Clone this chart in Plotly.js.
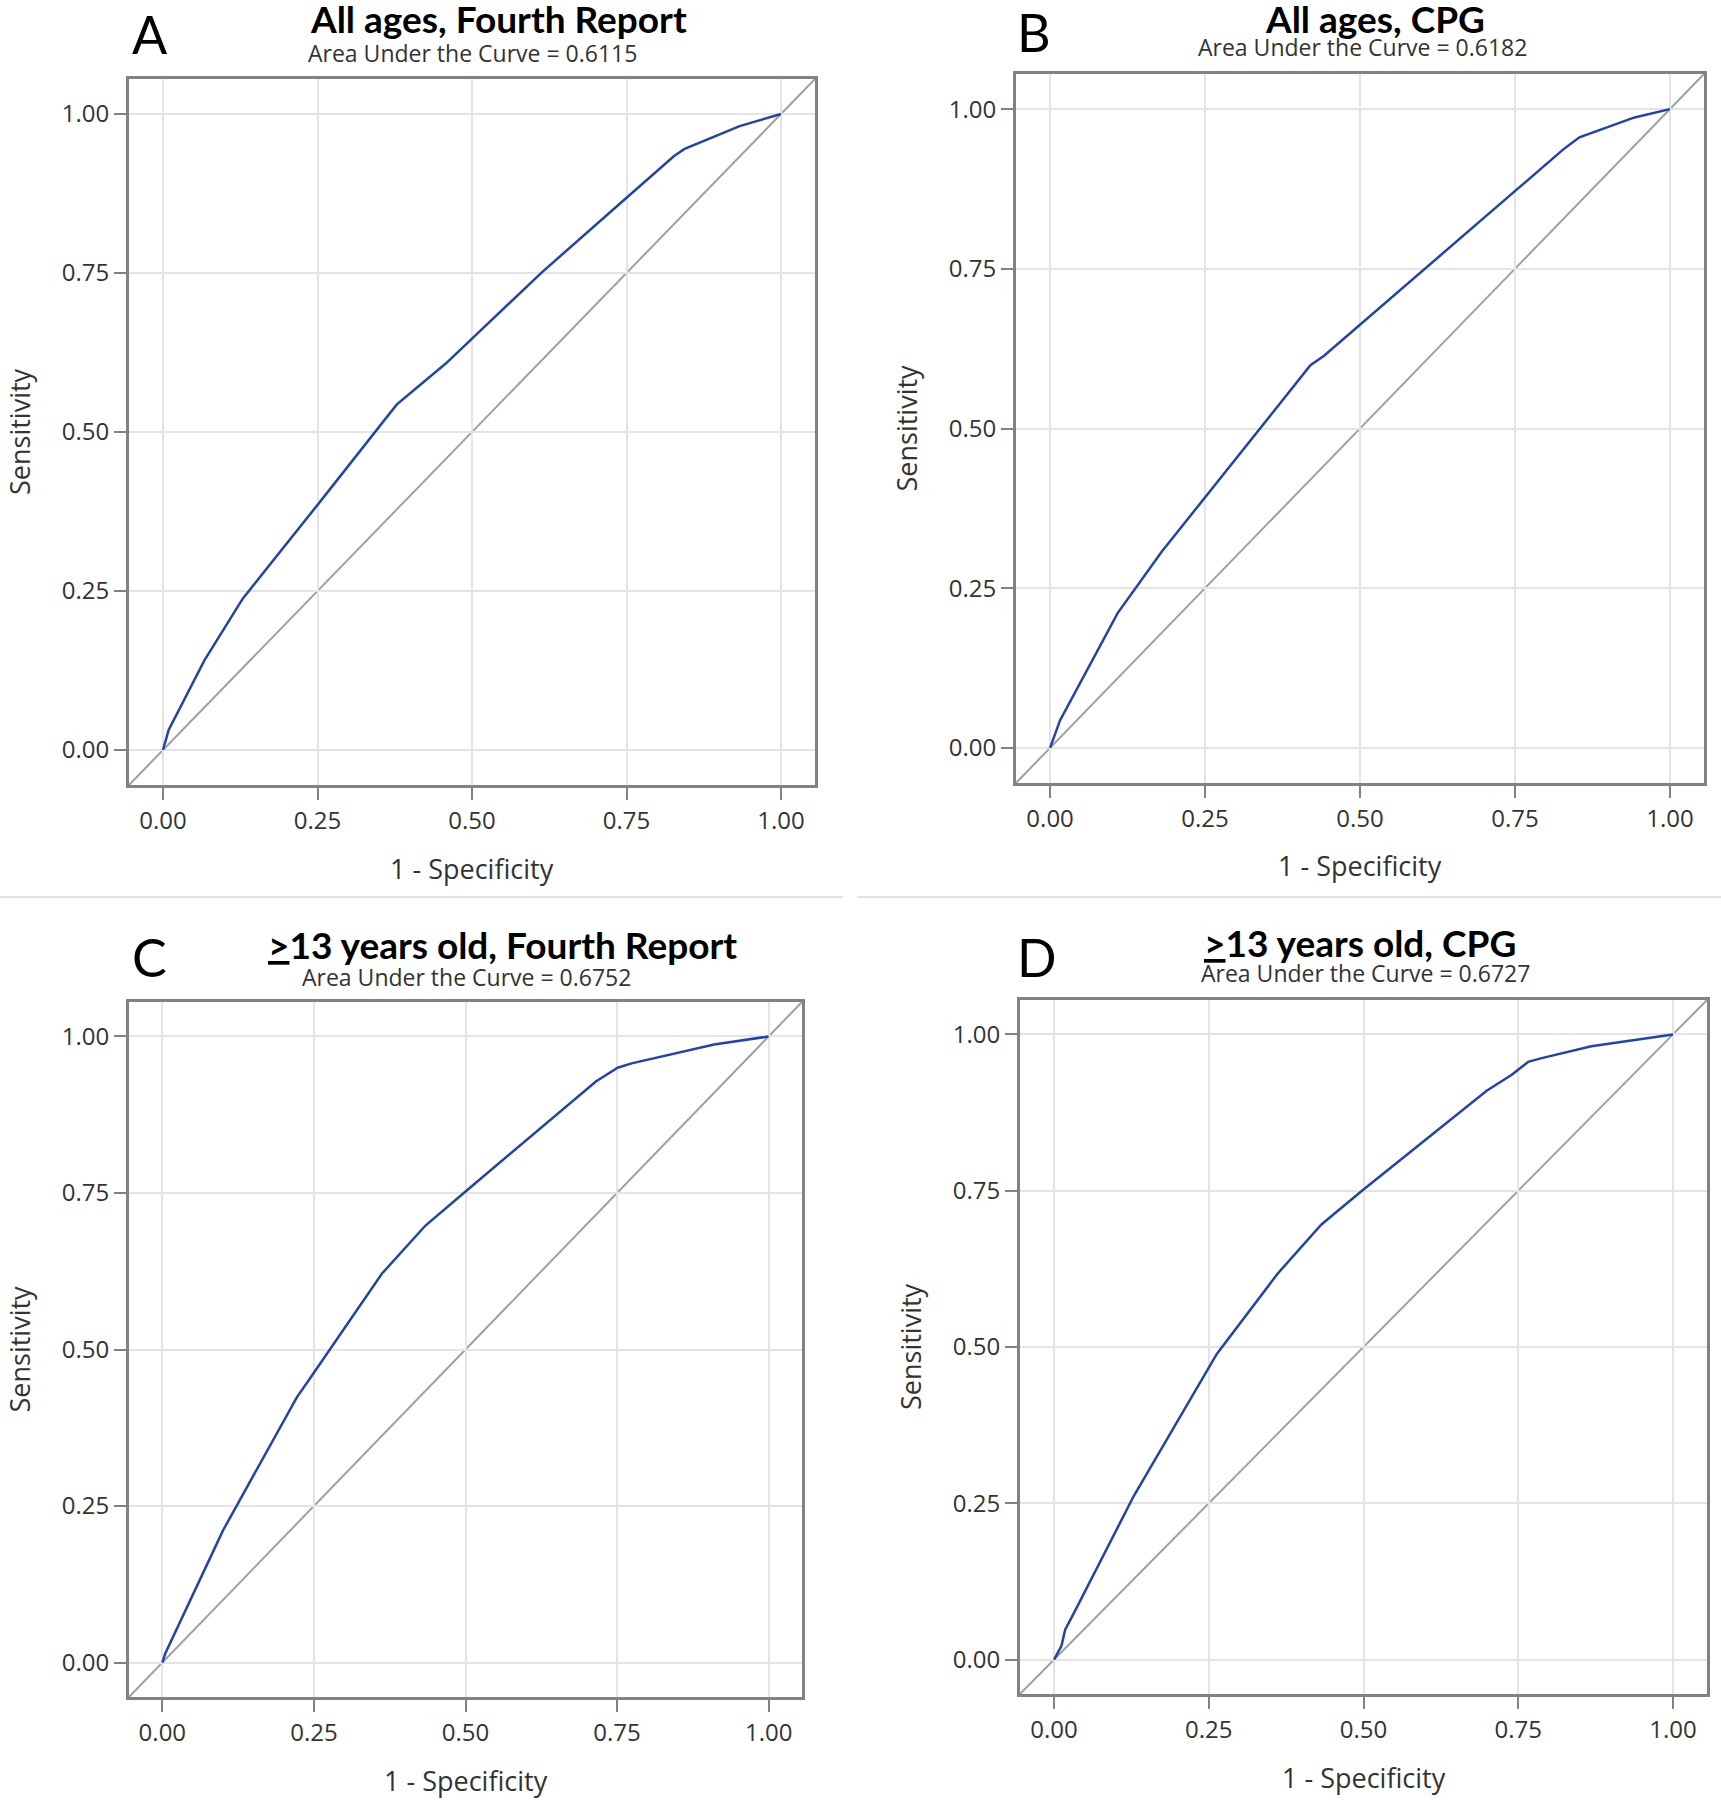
<!DOCTYPE html>
<html>
<head>
<meta charset="utf-8">
<script src="https://cdn.plot.ly/plotly-3.0.1.min.js"></script>
<style>html,body{margin:0;padding:0;background:#fff;}#chart{width:1721px;height:1800px;}</style>
</head>
<body>
<div id="chart"></div>
<script>
// ---------- data ----------
const panelLetters = ['A', 'B', 'C', 'D'];
const panelTitles = ['All ages, Fourth Report', 'All ages, CPG',
  '<u>></u>13 years old, Fourth Report', '<u>></u>13 years old, CPG'];
const aucValues = ['0.6115', '0.6182', '0.6752', '0.6727'];

const tickVals = [0, 0.25, 0.5, 0.75, 1];
const tickLabels = ['0.00', '0.25', '0.50', '0.75', '1.00'];
const xAxisTitle = '1 - Specificity';
const yAxisTitle = 'Sensitivity';

// Panel A: All ages, Fourth Report
const fprA = [0, 0.009, 0.067, 0.129, 0.253, 0.378, 0.458, 0.613, 0.751, 0.827, 0.844, 0.933, 1];
const tprA = [0, 0.031, 0.141, 0.238, 0.389, 0.543, 0.608, 0.751, 0.869, 0.934, 0.945, 0.981, 1];
// Panel B: All ages, CPG
const fprB = [0, 0.016, 0.109, 0.180, 0.420, 0.442, 0.748, 0.828, 0.854, 0.943, 1];
const tprB = [0, 0.043, 0.211, 0.307, 0.599, 0.614, 0.870, 0.937, 0.956, 0.987, 1];
// Panel C: >=13 years old, Fourth Report
const fprC = [0, 0.005, 0.086, 0.100, 0.222, 0.240, 0.362, 0.434, 0.502, 0.715, 0.751, 0.774, 0.910, 1];
const tprC = [0, 0.015, 0.182, 0.211, 0.424, 0.449, 0.621, 0.698, 0.754, 0.928, 0.950, 0.957, 0.987, 1];
// Panel D: >=13 years old, CPG
const fprD = [0, 0.012, 0.018, 0.036, 0.129, 0.263, 0.361, 0.432, 0.499, 0.699, 0.739, 0.766, 0.788, 0.868, 1];
const tprD = [0, 0.022, 0.048, 0.082, 0.262, 0.489, 0.617, 0.696, 0.751, 0.910, 0.935, 0.956, 0.962, 0.981, 1];

// ---------- layout geometry (pixels) ----------
const W = 1721, H = 1800;
const frames = [
  {l: 129, r: 815, t: 79, b: 785},
  {l: 1016, r: 1704, t: 74, b: 783},
  {l: 129, r: 802, t: 1002, b: 1697},
  {l: 1020, r: 1707, t: 1000, b: 1694}
];
const letterPos = [[150, 34], [1034, 32], [149, 957], [1037, 957]];
const titlePos = [[499, 18], [1375, 18], [502, 944], [1360, 943]];
const subPos = [[472, 53], [1362, 47], [467, 977], [1365, 973]];

const px = x => x / W;
const py = y => 1 - y / H;

const fprs = [fprA, fprB, fprC, fprD];
const tprs = [tprA, tprB, tprC, tprD];

const tickFont = {family: 'Open Sans, Noto Sans, sans-serif', size: 24, color: '#333333'};
const titleFont = {family: 'Open Sans, Noto Sans, sans-serif', size: 27, color: '#333333'};

const data = [];
const layout = {
  width: W, height: H,
  margin: {l: 0, r: 0, t: 0, b: 0, pad: 0},
  paper_bgcolor: '#ffffff', plot_bgcolor: '#ffffff',
  showlegend: false,
  annotations: [], shapes: []
};

for (let i = 0; i < 4; i++) {
  const f = frames[i];
  const xn = i === 0 ? 'x' : 'x' + (i + 1);
  const yn = i === 0 ? 'y' : 'y' + (i + 1);
  const xk = i === 0 ? 'xaxis' : 'xaxis' + (i + 1);
  const yk = i === 0 ? 'yaxis' : 'yaxis' + (i + 1);
  const common = {
    range: [-0.055, 1.055], tickvals: tickVals, ticktext: tickLabels,
    showgrid: true, gridcolor: '#e4e4e4', gridwidth: 2, zeroline: false,
    showline: true, mirror: true, linecolor: '#828282', linewidth: 3,
    ticks: 'outside', ticklen: 12, tickwidth: 2, tickcolor: '#828282',
    tickfont: tickFont, fixedrange: true
  };
  layout[xk] = Object.assign({}, common, {domain: [px(f.l), px(f.r)], anchor: yn});
  layout[yk] = Object.assign({}, common, {domain: [py(f.b), py(f.t)], anchor: xn});

  // chance diagonal, corner to corner of the plot frame
  layout.shapes.push({type: 'line', xref: xn + ' domain', yref: yn + ' domain',
    x0: 0, y0: 0, x1: 1, y1: 1, line: {color: '#a0a0a0', width: 2}, layer: 'below'});

  data.push({type: 'scatter', mode: 'lines', x: fprs[i], y: tprs[i], xaxis: xn, yaxis: yn,
    line: {color: '#2344a6', width: 2.5}, hoverinfo: 'x+y'});

  // panel letter
  layout.annotations.push({xref: 'paper', yref: 'paper', x: px(letterPos[i][0]), y: py(letterPos[i][1]),
    xanchor: 'center', yanchor: 'middle', showarrow: false, text: panelLetters[i],
    font: {family: 'Lato, sans-serif', size: 52, color: '#000000'}});
  // panel title
  layout.annotations.push({xref: 'paper', yref: 'paper', x: px(titlePos[i][0]), y: py(titlePos[i][1]),
    xanchor: 'center', yanchor: 'middle', showarrow: false, text: panelTitles[i],
    font: {family: 'Lato, sans-serif', size: 37, color: '#000000', weight: 'bold'}});
  // AUC subtitle
  layout.annotations.push({xref: 'paper', yref: 'paper', x: px(subPos[i][0]), y: py(subPos[i][1]),
    xanchor: 'center', yanchor: 'middle', showarrow: false,
    text: 'Area Under the Curve = ' + aucValues[i],
    font: {family: 'Open Sans, Noto Sans, sans-serif', size: 23, color: '#333333'}});
  // axis titles
  layout.annotations.push({xref: 'paper', yref: 'paper', x: px((f.l + f.r) / 2), y: py(f.b + 83),
    xanchor: 'center', yanchor: 'middle', showarrow: false, text: xAxisTitle, font: titleFont});
  layout.annotations.push({xref: 'paper', yref: 'paper', x: px(f.l - 110), y: py((f.t + f.b) / 2),
    xanchor: 'center', yanchor: 'middle', showarrow: false, text: yAxisTitle, textangle: -90, font: titleFont});
}

// light separators between the two rows
layout.shapes.push({type: 'line', xref: 'paper', yref: 'paper', x0: 0, x1: px(843), y0: py(897), y1: py(897),
  line: {color: '#e3e3e3', width: 2}});
layout.shapes.push({type: 'line', xref: 'paper', yref: 'paper', x0: px(857), x1: 1, y0: py(897), y1: py(897),
  line: {color: '#e3e3e3', width: 2}});

Plotly.newPlot('chart', data, layout, {displayModeBar: false, staticPlot: true});
</script>
</body>
</html>
